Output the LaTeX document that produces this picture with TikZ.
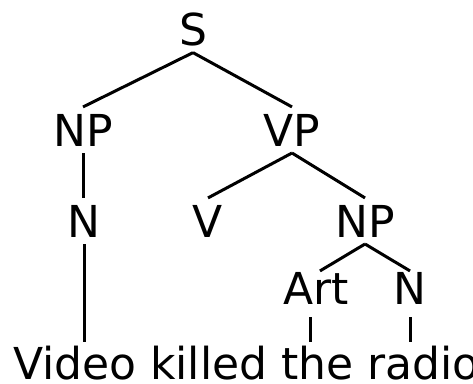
\documentclass[tikz,border=0pt]{standalone}
\usepackage{fontspec}
\setmainfont{DejaVu Sans}
\begin{document}
\begin{tikzpicture}[x=1pt,y=-1pt,
  lbl/.style={font=\fontsize{44}{44}\selectfont, inner sep=0pt, outer sep=7pt, anchor=base},
  edge/.style={line width=3pt}]
\fill[white] (0,0) rectangle (473,383);
\useasboundingbox (0,0) rectangle (473,383);
% category labels
\node[lbl] (S)   at (193,45)  {S};
\node[lbl] (NPa) at (83,146)  {NP};
\node[lbl] (VP)  at (292,146) {VP};
\node[lbl] (Na)  at (84,237)  {N};
\node[lbl] (V)   at (208,237) {V};
\node[lbl] (NPb) at (365,237) {NP};
\node[lbl, outer sep=1pt] (Art) at (316,304) {Art};
\node[lbl, outer sep=1pt] (Nb)  at (410,304) {N};
% the sentence
\node[lbl, anchor=base west, outer sep=4pt] (sent) at (9,379) {Video killed the radio};
% branches
\draw[edge] (S.south) -- (NPa.north);
\draw[edge] (S.south) -- (VP.north);
\draw[edge] (NPa.south) -- (NPa.south |- Na.north);
\draw[edge] (VP.south) -- (V.north);
\draw[edge] (VP.south) -- (NPb.north);
\draw[edge] (NPb.south) -- ([xshift=4pt]Art.north);
\draw[edge] (NPb.south) -- (Nb.north);
% leaves
\draw[edge] (Na.south) -- (Na.south |- sent.north);
\draw[edge] ([shift={(-6pt,-12pt)}]Art.south) -- ([xshift=-6pt]Art.south |- sent.north);
\draw[edge] ([yshift=-12pt]Nb.south) -- (Nb.south |- sent.north);
\end{tikzpicture}
\end{document}
